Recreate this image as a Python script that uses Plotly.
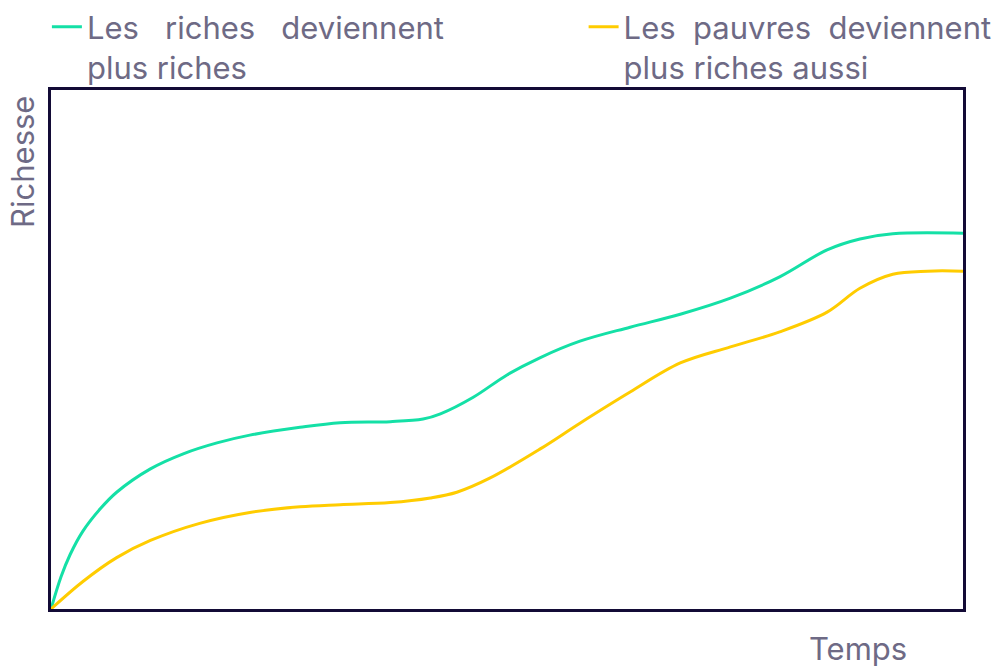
import plotly.graph_objects as go

# Time axis (arbitrary units, 0 -> 100)
temps_riches = [0, 1.1, 2.1, 3.5, 5.4, 7.2, 10.9, 14.5, 18.2, 21.8, 27.3, 31.7, 37.2,
                40.8, 42.7, 46.3, 50.0, 53.6, 58.0, 63.5, 69.0, 74.5, 79.9,
                85.1, 88.7, 92.3, 100]
richesse_riches = [0, 6.2, 10.5, 15.0, 19.3, 22.5, 27.0, 29.9, 32.0, 33.5, 35.0, 35.9, 36.1,
                   36.6, 37.6, 40.8, 45.1, 48.4, 51.6, 54.3, 56.8, 59.9, 64.0,
                   69.2, 71.3, 72.3, 72.4]

temps_pauvres = [0, 3.5, 7.2, 10.9, 16.3, 21.8, 27.3, 31.7, 37.2, 41.6, 44.5, 48.1,
                 53.6, 58.0, 63.5, 69.0, 74.5, 79.9, 85.1, 88.7, 92.3, 96.1, 100]
richesse_pauvres = [0, 5.3, 9.9, 13.2, 16.5, 18.6, 19.7, 20.1, 20.5, 21.4, 22.5, 25.2,
                    30.8, 35.8, 41.8, 47.4, 50.5, 53.4, 57.2, 61.8, 64.5, 65.1, 65.1]

nom_riches = "Les\u00a0\u00a0\u00a0riches\u00a0\u00a0\u00a0deviennent<br>plus riches"
nom_pauvres = "Les\u00a0\u00a0pauvres\u00a0\u00a0deviennent<br>plus riches aussi"

VERT = "#14e0a6"
JAUNE = "#ffcc00"
TEXTE = "#6e6a85"
CADRE = "#130b36"
POLICE = "Inter"
TAILLE = 31

fig = go.Figure()
fig.add_trace(go.Scatter(x=temps_riches, y=richesse_riches, mode="lines",
                         name=nom_riches, legend="legend",
                         line=dict(color=VERT, width=3, shape="spline", smoothing=1.0)))
fig.add_trace(go.Scatter(x=temps_pauvres, y=richesse_pauvres, mode="lines",
                         name=nom_pauvres, legend="legend2",
                         line=dict(color=JAUNE, width=3, shape="spline", smoothing=1.0)))

axis_common = dict(showgrid=False, zeroline=False, showticklabels=False, ticks="",
                   showline=True, linecolor=CADRE, linewidth=3, mirror=True,
                   range=[0, 100], fixedrange=True)

legend_common = dict(yanchor="top", xanchor="left", valign="top",
                     font=dict(family=POLICE, size=TAILLE, color=TEXTE),
                     bgcolor="rgba(0,0,0,0)")

fig.update_layout(
    width=993, height=667,
    margin=dict(l=51, r=30, t=90, b=58, autoexpand=False),
    paper_bgcolor="white", plot_bgcolor="white",
    font=dict(family=POLICE, color=TEXTE, size=TAILLE),
    xaxis=axis_common,
    yaxis=axis_common,
    showlegend=True,
    legend=dict(x=-0.0045, y=1.173, **legend_common),
    legend2=dict(x=0.584, y=1.173, **legend_common),
    annotations=[
        dict(text="Richesse", textangle=-90, xref="paper", yref="paper",
             x=-0.009, y=0.993, xanchor="right", yanchor="top", showarrow=False,
             font=dict(family=POLICE, size=TAILLE, color=TEXTE)),
        dict(text="Temps", xref="paper", yref="paper",
             x=0.885, y=-0.077, xanchor="center", yanchor="middle", showarrow=False,
             font=dict(family=POLICE, size=TAILLE, color=TEXTE)),
    ],
)

fig.write_html("out.html")
